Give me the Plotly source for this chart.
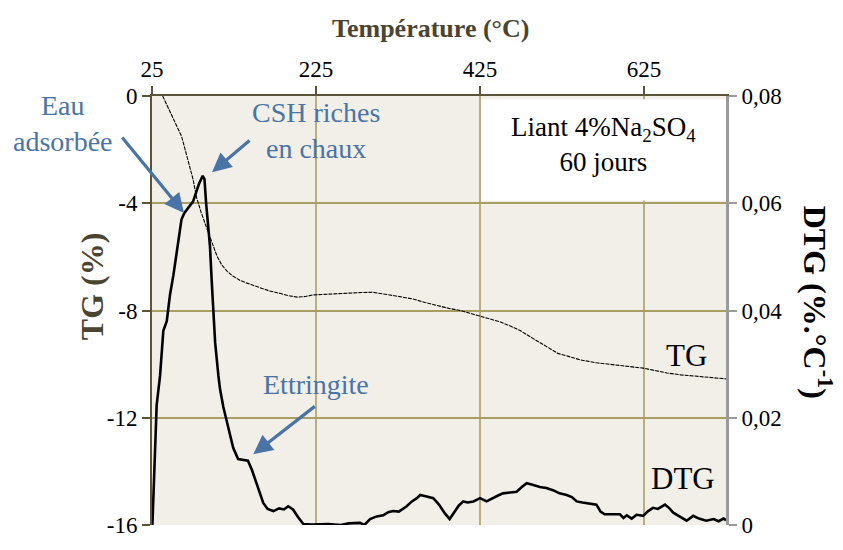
import plotly.graph_objects as go

# --- Thermogravimetric data (temperature in °C) ---
tg_temp = [38, 45, 52, 61, 65, 70, 75, 79.5, 85, 92, 98, 104, 110, 117, 124, 132,
           140, 148, 157, 168, 181, 192, 202, 212, 221, 235, 250, 266, 280, 294,
           305, 315, 330, 343, 358, 373, 387, 401, 413, 425, 437, 449, 462, 474,
           490, 506, 520, 534, 547, 567, 588, 606, 624, 640, 653, 670, 689, 707, 725]
tg_mass = [0.0, -0.45, -0.95, -1.5, -1.95, -2.5, -3.1, -3.8, -4.35, -4.95, -5.45,
           -5.95, -6.3, -6.55, -6.72, -6.87, -6.97, -7.05, -7.16, -7.27, -7.36,
           -7.45, -7.5, -7.48, -7.42, -7.4, -7.37, -7.33, -7.33, -7.32, -7.36,
           -7.42, -7.5, -7.57, -7.7, -7.82, -7.92, -8.0, -8.1, -8.22, -8.32,
           -8.42, -8.58, -8.75, -9.05, -9.36, -9.6, -9.72, -9.84, -9.95, -10.03,
           -10.1, -10.15, -10.25, -10.33, -10.4, -10.45, -10.5, -10.55]

dtg_temp = [25.5, 26.6, 28, 30.7, 34.8, 38.8, 43, 47, 51, 56, 61, 64.5, 70, 75, 77,
            82, 86.8, 89, 91, 93, 95.7, 98, 99.8, 102, 106, 108, 112, 116, 120,
            124, 130, 136, 142, 147, 152.6, 157, 160.7, 166, 173, 180, 186, 191,
            197, 203, 209.5, 220, 240, 255, 265, 278.7, 284, 291, 299, 307, 313,
            319, 326, 335.6, 342, 348, 352, 360, 368, 375, 382, 388, 394, 399,
            404.6, 410, 417, 425, 433, 440, 447, 453, 462, 469.7, 476, 481.9, 489,
            498, 506, 514, 522, 530.7, 537, 543, 550, 559, 567, 572, 577, 586,
            595.7, 600, 604, 610, 616, 624, 630, 636, 642, 650.6, 656, 660.7, 668,
            677, 685, 692, 701, 710, 716, 722, 725]
dtg_rate = [0.0, 0.0053, 0.012, 0.0224, 0.0278, 0.0362, 0.038, 0.043, 0.0465, 0.052,
            0.057, 0.0582, 0.0592, 0.0603, 0.0612, 0.0635, 0.0651, 0.0645, 0.060,
            0.056, 0.052, 0.045, 0.0399, 0.034, 0.0278, 0.0253, 0.022, 0.0193,
            0.0165, 0.0144, 0.0123, 0.0121, 0.012, 0.0102, 0.0078, 0.0058, 0.0041,
            0.003, 0.0026, 0.0031, 0.0029, 0.0035, 0.0029, 0.0015, 0.0002, 0.0001,
            0.0002, 0.0, 0.0003, 0.0004, 0.0, 0.0011, 0.0016, 0.0018, 0.0024,
            0.0026, 0.0025, 0.0035, 0.0044, 0.005, 0.0056, 0.0053, 0.005, 0.0038,
            0.0022, 0.0011, 0.0025, 0.0036, 0.0044, 0.0042, 0.0044, 0.005, 0.0044,
            0.005, 0.0055, 0.0059, 0.0061, 0.0062, 0.0071, 0.0078, 0.0075, 0.0071,
            0.0069, 0.0065, 0.0059, 0.0056, 0.0052, 0.0044, 0.0042, 0.0040, 0.0038,
            0.0025, 0.002, 0.002, 0.002, 0.0013, 0.0018, 0.0012, 0.0019, 0.0017,
            0.0026, 0.0032, 0.003, 0.0038, 0.0031, 0.0023, 0.0016, 0.0008, 0.0017,
            0.0012, 0.0008, 0.0011, 0.0007, 0.0012, 0.0009]

x_ticks = [25, 225, 425, 625]
tg_ticks = [-16, -12, -8, -4, 0]
tg_ticktext = ["-16", "-12", "-8", "-4", "0"]
dtg_ticks = [0, 0.02, 0.04, 0.06, 0.08]
dtg_ticktext = ["0", "0,02", "0,04", "0,06", "0,08"]

SERIF = "Liberation Serif"
BLUE = "#4a74a6"
OLIVE = "#4b4430"

# plot-area pixel frame used to place free text
X0, X1, Y0, Y1 = 152, 726, 96, 536


def px(x):
    return (x - X0) / (X1 - X0)


def py(y):
    return (Y1 - y) / (Y1 - Y0)


def f(size, color="black"):
    return dict(family=SERIF, size=size, color=color)


fig = go.Figure()

fig.add_trace(go.Scatter(
    x=tg_temp, y=tg_mass, mode="lines", name="TG",
    line=dict(color="black", width=1.1, dash="4px,1px"),
    yaxis="y", showlegend=False, hoverinfo="skip"))

fig.add_trace(go.Scatter(
    x=dtg_temp, y=dtg_rate, mode="lines", name="DTG",
    line=dict(color="black", width=2.6),
    yaxis="y2", showlegend=False, hoverinfo="skip"))

fig.update_layout(
    width=843, height=550,
    margin=dict(l=X0, r=843 - X1, t=Y0, b=550 - Y1),
    paper_bgcolor="white",
    plot_bgcolor="#f1efe7",
    font=f(22),
    xaxis=dict(
        side="top", range=[25, 725], tickvals=x_ticks,
        showgrid=True, gridcolor="#b9af7e", gridwidth=1.5,
        showline=True, linecolor="#5b5439", linewidth=2,
        ticks="outside", ticklen=8, tickcolor="#5b5439", tickwidth=1.5,
        tickfont=f(23), zeroline=False,
    ),
    yaxis=dict(
        range=[-16, 0], tickvals=tg_ticks, ticktext=tg_ticktext,
        showgrid=True, gridcolor="#a99e62", gridwidth=1.5,
        showline=True, linecolor="#5b5439", linewidth=2,
        ticks="outside", ticklen=8, tickcolor="#5b5439", tickwidth=1.5,
        tickfont=f(23), zeroline=False,
    ),
    yaxis2=dict(
        overlaying="y", side="right", range=[0, 0.08],
        tickvals=dtg_ticks, ticktext=dtg_ticktext, showgrid=False,
        showline=True, linecolor="#9a9a9a", linewidth=3,
        ticks="outside", ticklen=8, tickcolor="#9a9a9a", tickwidth=1.5,
        tickfont=f(23), zeroline=False,
    ),
)

# white legend box in the top-right corner of the plot area
fig.add_shape(type="rect", xref="x", yref="y", x0=426.5, x1=725, y0=-3.9, y1=-0.12,
              fillcolor="white", line=dict(width=0), layer="between")

ann = []
ann.append(dict(text="<b>Température (°C)</b>", x=px(430), y=py(27),
                font=f(26, OLIVE)))
ann.append(dict(text="<b>TG (%)</b>", x=px(92), y=py(291), textangle=-90,
                font=f(32, OLIVE)))
ann.append(dict(text="<b>DTG (%.°C<sup>-1</sup>)</b>", x=px(818), y=py(307),
                textangle=90, font=f(32)))
ann.append(dict(text="Liant 4%Na<sub>2</sub>SO<sub>4</sub><br>60 jours",
                x=px(603), y=py(146), font=f(27)))
ann.append(dict(text="TG", x=px(686), y=py(362), font=f(31)))
ann.append(dict(text="DTG", x=px(683), y=py(488), font=f(31)))
ann.append(dict(text="Eau<br>adsorbée", x=px(63), y=py(124), font=f(28, BLUE)))
ann.append(dict(text="CSH riches<br>en chaux", x=px(316), y=py(131), font=f(28, BLUE)))
ann.append(dict(text="Ettringite", x=px(316), y=py(392), font=f(28, BLUE)))

for a in ann:
    a.update(xref="paper", yref="paper", showarrow=False,
             xanchor="center", yanchor="middle")
    fig.add_annotation(**a)

# arrows pointing at the thermal events (head in data units, tail offset in px)
arrows = [
    dict(x=64, y=-4.36, ax=-63, ay=-77),
    dict(x=98.2, y=-2.84, ax=39, ay=-33),
    dict(x=148.5, y=-13.36, ax=63, ay=-49),
]
for a in arrows:
    fig.add_annotation(text="", xref="x", yref="y", showarrow=True,
                       arrowhead=2, arrowsize=1.2, arrowwidth=3.2,
                       arrowcolor=BLUE, standoff=0, **a)

fig.write_html("out.html")
